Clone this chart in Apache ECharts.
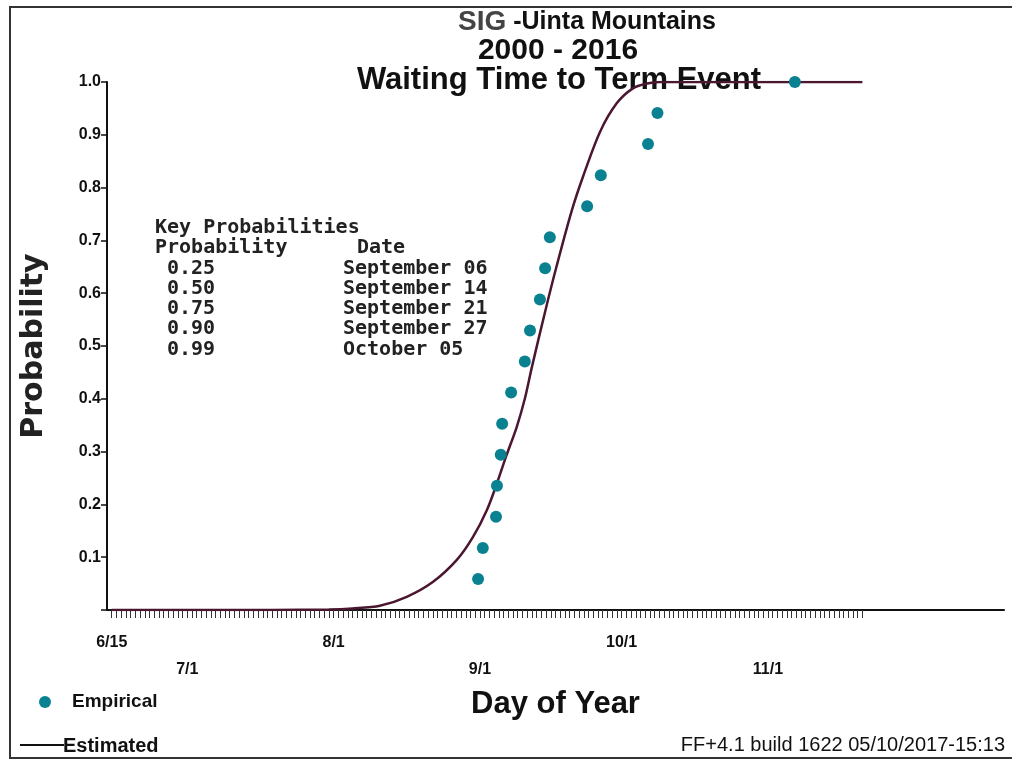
<!DOCTYPE html>
<html>
<head>
<meta charset="utf-8">
<script src="https://cdn.jsdelivr.net/npm/echarts@6/dist/echarts.min.js"></script>
<style>
html,body{margin:0;padding:0;background:#fff;}
#chart{width:1012px;height:764px;}
</style>
</head>
<body>
<div id="chart"></div>
<script>
// ---- data (day of year, non-leap) ----
var monthTickDays = [166, 182, 213, 244, 274, 305];
var monthTickLabels = ['6/15', '7/1', '8/1', '9/1', '10/1', '11/1'];
var yTickLabels = ['', '0.1', '0.2', '0.3', '0.4', '0.5', '0.6', '0.7', '0.8', '0.9', '1.0'];

var empiricalDays = [243.6, 244.6, 247.4, 247.6, 248.4, 248.7, 250.6, 253.5, 254.6, 256.7, 257.8, 258.8, 266.7, 269.6, 279.6, 281.6, 310.7];
var empiricalProb = [0.0588, 0.1176, 0.1765, 0.2353, 0.2941, 0.3529, 0.4118, 0.4706, 0.5294, 0.5882, 0.6471, 0.7059, 0.7647, 0.8235, 0.8824, 0.9412, 1.0];

var estimatedDays = [166, 200, 212, 217, 222.8, 228.5, 234, 239.1, 242.5, 245.5, 247.6, 249.5, 251.8, 253.5, 255, 257.8, 260.2, 263.4, 265.8, 269.4, 273, 276.4, 279.4, 282, 325];
var estimatedProb = [0, 0, 0.001, 0.003, 0.008, 0.025, 0.053, 0.095, 0.138, 0.19, 0.24, 0.29, 0.347, 0.40, 0.46, 0.565, 0.65, 0.755, 0.82, 0.905, 0.96, 0.988, 0.997, 1.0, 1.0];

var keyProbs = ['0.25', '0.50', '0.75', '0.90', '0.99'];
var keyDates = ['September 06', 'September 14', 'September 21', 'September 27', 'October 05'];

// ---- build ----
var empData = empiricalDays.map(function (d, i) { return [d, empiricalProb[i]]; });
var estData = estimatedDays.map(function (d, i) { return [d, estimatedProb[i]]; });
var dailyTicks = [];
for (var d = 166; d <= 325; d++) dailyTicks.push(d);

var sans = "'Liberation Sans', Arial, sans-serif";
var mono = "'DejaVu Sans Mono', monospace";
var teal = '#0a8190';
var maroon = '#4a1630';

var graphics = [
  { type: 'rect', shape: { x: 10, y: 7, width: 1010, height: 751 }, style: { fill: 'none', stroke: '#333', lineWidth: 2 }, silent: true, z: 0 },
  { type: 'text', x: 587, y: 22, style: { text: '{g|SIG} -Uinta Mountains', align: 'center', verticalAlign: 'middle', font: 'bold 25px ' + sans, fill: '#111',
      rich: { g: { fontSize: 28, fontWeight: 'bold', fontFamily: sans, fill: '#444' } } } },
  { type: 'text', x: 558, y: 51, style: { text: '2000 - 2016', align: 'center', verticalAlign: 'middle', font: 'bold 30px ' + sans, fill: '#111' } },
  { type: 'text', x: 559, y: 80, style: { text: 'Waiting Time to Term Event', align: 'center', verticalAlign: 'middle', font: 'bold 31px ' + sans, fill: '#111' } },
  { type: 'text', x: 155, y: 228, style: { text: 'Key Probabilities', verticalAlign: 'middle', font: 'bold 20px ' + mono, fill: '#222' } },
  { type: 'text', x: 155, y: 248, style: { text: 'Probability', verticalAlign: 'middle', font: 'bold 20px ' + mono, fill: '#222' } },
  { type: 'text', x: 357, y: 248, style: { text: 'Date', verticalAlign: 'middle', font: 'bold 20px ' + mono, fill: '#222' } },
  { type: 'text', right: 7, top: 735, style: { text: 'FF+4.1 build 1622 05/10/2017-15:13', font: '20px ' + sans, fill: '#111' } },
  // legend
  { type: 'circle', shape: { cx: 45, cy: 702, r: 6 }, style: { fill: teal } },
  { type: 'text', x: 72, y: 702, style: { text: 'Empirical', verticalAlign: 'middle', font: 'bold 19px ' + sans, fill: '#111' } },
  { type: 'line', shape: { x1: 20, y1: 745, x2: 64, y2: 745 }, style: { stroke: '#111', lineWidth: 2 } },
  { type: 'text', x: 63, y: 746, style: { text: 'Estimated', verticalAlign: 'middle', font: 'bold 20px ' + sans, fill: '#111' } }
];
keyProbs.forEach(function (p, i) {
  graphics.push({ type: 'text', x: 167, y: 268.5 + i * 20.2, style: { text: p, verticalAlign: 'middle', font: 'bold 20px ' + mono, fill: '#222' } });
  graphics.push({ type: 'text', x: 343, y: 268.5 + i * 20.2, style: { text: keyDates[i], verticalAlign: 'middle', font: 'bold 20px ' + mono, fill: '#222' } });
});

var chart = echarts.init(document.getElementById('chart'), null, { renderer: 'canvas' });
chart.setOption({
  animation: false,
  backgroundColor: '#fff',
  grid: { left: 107, right: 8, top: 82, bottom: 154, containLabel: false, outerBoundsMode: 'none' },
  xAxis: {
    type: 'value', min: 165, max: 355,
    name: 'Day of Year', nameLocation: 'middle', nameGap: 79, nameMoveOverlap: false,
    nameTextStyle: { fontFamily: sans, fontSize: 31, fontWeight: 'bold', color: '#111' },
    axisLine: { show: true, onZero: false, lineStyle: { color: '#111', width: 2 } },
    axisTick: { show: true, customValues: dailyTicks, length: 8, lineStyle: { color: '#333', width: 1 } },
    axisLabel: {
      customValues: monthTickDays, margin: 19, lineHeight: 27,
      fontFamily: sans, fontSize: 16, fontWeight: 'bold', color: '#111',
      formatter: function (v) {
        var i = monthTickDays.indexOf(v);
        return (i % 2 === 1 ? '\n' : '') + monthTickLabels[i];
      }
    },
    splitLine: { show: false }
  },
  yAxis: {
    type: 'value', min: 0, max: 1, interval: 0.1,
    name: 'Probability', nameLocation: 'middle', nameRotate: 90, nameGap: 58, nameMoveOverlap: false,
    nameTextStyle: { fontFamily: "'DejaVu Sans', sans-serif", fontSize: 30, fontWeight: 'bold', color: '#222' },
    axisLine: { show: true, lineStyle: { color: '#111', width: 2 } },
    axisTick: { show: true, length: 6, lineStyle: { color: '#111', width: 1.5 } },
    axisLabel: {
      margin: 6, fontFamily: sans, fontSize: 16, fontWeight: 'bold', color: '#111',
      formatter: function (v) { return yTickLabels[Math.round(v * 10)]; }
    },
    splitLine: { show: false }
  },
  series: [
    {
      name: 'Estimated', type: 'line', data: estData, smooth: 0.3, showSymbol: false, symbol: 'none',
      lineStyle: { color: maroon, width: 2.5 }, itemStyle: { color: maroon }, z: 3
    },
    {
      name: 'Empirical', type: 'scatter', data: empData, symbol: 'circle', symbolSize: 12,
      itemStyle: { color: teal, opacity: 1 }, z: 4
    }
  ],
  graphic: graphics
});
</script>
</body>
</html>
